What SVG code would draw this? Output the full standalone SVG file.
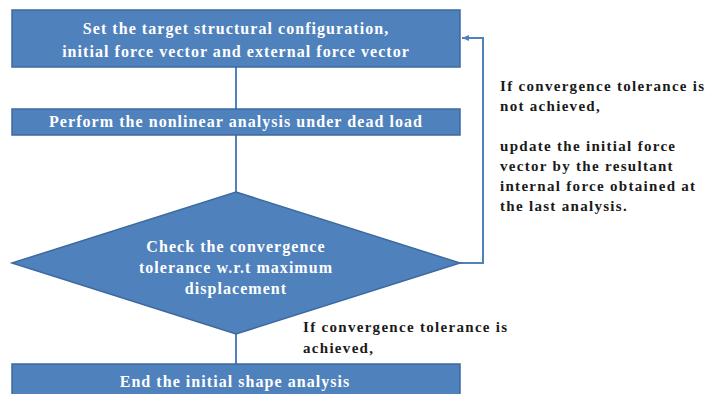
<svg xmlns="http://www.w3.org/2000/svg" width="713" height="394" viewBox="0 0 713 394">
<style>
.box{fill:#4f81bd;stroke:#3d6a9e;stroke-width:1.5}
.wt{font-family:"Liberation Serif",serif;font-weight:bold;font-size:16px;letter-spacing:1.05px;fill:#ffffff;text-anchor:middle}
.bt{font-family:"Liberation Serif",serif;font-weight:bold;font-size:15px;letter-spacing:1.3px;fill:#1a1a1a}
.ln{stroke:#4f81bd;stroke-width:2;fill:none}
</style>
<defs>
<marker id="ah" markerWidth="8" markerHeight="8" refX="7" refY="4" orient="auto" markerUnits="userSpaceOnUse">
<path d="M0,1 L7,4 L0,7 Z" fill="#4f81bd"/>
</marker>
</defs>
<rect width="713" height="394" fill="#ffffff"/>
<g id="connectors">
<line class="ln" x1="236" y1="67" x2="236" y2="109"/>
<line class="ln" x1="236" y1="135" x2="236" y2="192"/>
<line class="ln" x1="236" y1="334" x2="236" y2="364"/>
<polyline class="ln" points="460,263 483,263 483,38 462,38" marker-end="url(#ah)"/>
</g>
<g id="n1">
<rect class="box" x="12" y="10" width="448" height="57"/>
<text class="wt" x="236" y="34">Set the target structural configuration,</text>
<text class="wt" x="236" y="57">initial force vector and external force vector</text>
</g>
<g id="n2">
<rect class="box" x="12" y="109" width="448" height="26"/>
<text class="wt" x="236" y="127">Perform the nonlinear analysis under dead load</text>
</g>
<g id="n3">
<polygon class="box" points="236,192 460,263 236,334 12,263"/>
<text class="wt" x="236" y="252">Check the convergence</text>
<text class="wt" x="236" y="273">tolerance w.r.t maximum</text>
<text class="wt" x="236" y="294">displacement</text>
</g>
<g id="n4">
<rect class="box" x="12" y="364" width="448" height="40"/>
<text class="wt" x="235" y="387">End the initial shape analysis</text>
</g>
<g id="labels">
<text class="bt" x="500" y="91">If convergence tolerance is</text>
<text class="bt" x="500" y="111">not achieved,</text>
<text class="bt" x="500" y="151">update the initial force</text>
<text class="bt" x="500" y="171">vector by the resultant</text>
<text class="bt" x="500" y="191">internal force obtained at</text>
<text class="bt" x="500" y="211">the last analysis.</text>
<text class="bt" x="303" y="332">If convergence tolerance is</text>
<text class="bt" x="303" y="353">achieved,</text>
</g>
</svg>
